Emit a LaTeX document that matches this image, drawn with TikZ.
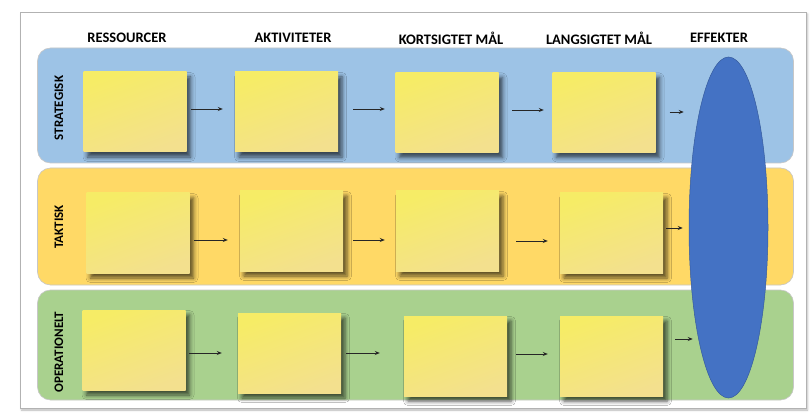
\documentclass[tikz,border=0pt]{standalone}
\usepackage{fontspec}
\setmainfont{Carlito}
\usetikzlibrary{shapes.geometric,shadows.blur,arrows.meta}
\definecolor{bandblue}{HTML}{9DC3E6}
\definecolor{bandorange}{HTML}{FFD966}
\definecolor{bandgreen}{HTML}{A9D18E}
\definecolor{effblue}{HTML}{4472C4}
\definecolor{stickytop}{HTML}{F6EC66}
\definecolor{stickybot}{HTML}{F3E08E}
\begin{document}
\begin{tikzpicture}[x=1pt,y=-1pt,
  band/.style={draw=black!22, line width=0.6pt, rounded corners=13pt},
  sticky/.style={minimum width=103pt, minimum height=80pt, inner sep=0pt,
     top color=stickytop, bottom color=stickybot, shading angle=20,
     blur shadow={shadow xshift=4pt, shadow yshift=-5pt, shadow blur radius=4.5pt, shadow opacity=65}},
  head/.style={font=\fontsize{14.5}{16}\selectfont\bfseries, inner sep=0pt},
  rowlab/.style={font=\fontsize{13}{15}\selectfont\bfseries, inner sep=0pt, rotate=90},
  arr/.style={draw=black!85, line width=0.9pt, -{Stealth[length=5pt,width=4pt]}}
]
\useasboundingbox (0,0) rectangle (811,414);
% page frame
\node[draw=black!30, fill=white, minimum width=786pt, minimum height=396pt, inner sep=0pt,
  blur shadow={shadow xshift=1.5pt, shadow yshift=-1.5pt, shadow blur radius=2pt, shadow opacity=30}] (frame) at (413,210.5) {};
% bands
\node[band, fill=bandblue, minimum width=756pt, minimum height=115pt] (bs) at (415.5,105.5) {};
\node[band, fill=bandorange, minimum width=756pt, minimum height=117pt] (bt) at (415.5,226.5) {};
\node[band, fill=bandgreen, minimum width=756pt, minimum height=110pt] (bo) at (415.5,345) {};
% headers
\node[head] (h1) at (127,38) {RESSOURCER};
\node[head] (h2) at (293,38) {AKTIVITETER};
\node[head] (h3) at (451,38) {KORTSIGTET MÅL};
\node[head] (h4) at (599,38) {LANGSIGTET MÅL};
\node[head] (h5) at (719,38) {EFFEKTER};
% row labels
\node[rowlab] (l1) at (59,108) {STRATEGISK};
\node[rowlab] (l2) at (59,227) {TAKTISK};
\node[rowlab] (l3) at (59,352) {OPERATIONELT};
% sticky notes
\node[sticky] (a1) at (135,112) {};
\node[sticky] (a2) at (286.5,112) {};
\node[sticky] (a3) at (447,112.5) {};
\node[sticky] (a4) at (604,112.5) {};
\node[sticky] (b1) at (138,233) {};
\node[sticky] (b2) at (291.5,231) {};
\node[sticky] (b3) at (447.5,231) {};
\node[sticky] (b4) at (611.5,233) {};
\node[sticky] (c1) at (134,350) {};
\node[sticky] (c2) at (289.5,353) {};
\node[sticky] (c3) at (455.5,356) {};
\node[sticky] (c4) at (611.5,356) {};
% effect ellipse
\node[ellipse, fill=effblue, draw=effblue!80!black, line width=0.5pt, minimum width=79pt, minimum height=341pt, inner sep=0pt] (eff) at (728.5,227.5) {};
% arrows row 1
\draw[arr] ([shift={(4.5,-3)}]a1.east) -- ([shift={(-12,-3)}]a2.west);
\draw[arr] ([shift={(15,-3)}]a2.east) -- ([shift={(-10.5,-3.5)}]a3.west);
\draw[arr] ([shift={(13.5,-2.5)}]a3.east) -- ([shift={(-8.5,-2.5)}]a4.west);
\draw[arr] ([shift={(14,-0.5)}]a4.east) -- ([shift={(-5,-115.5)}]eff.west);
% arrows row 2
\draw[arr] ([shift={(4.5,7)}]b1.east) -- ([shift={(-12,9)}]b2.west);
\draw[arr] ([shift={(10,9)}]b2.east) -- ([shift={(-11,9)}]b3.west);
\draw[arr] ([shift={(17,10)}]b3.east) -- ([shift={(-12,8)}]b4.west);
\draw[arr] ([shift={(3,-5)}]b4.east) -- ([shift={(-6,0.5)}]eff.west);
% arrows row 3
\draw[arr] ([shift={(3.5,3)}]c1.east) -- ([shift={(-16,0)}]c2.west);
\draw[arr] ([shift={(5,0)}]c2.east) -- ([shift={(-24,-3)}]c3.west);
\draw[arr] ([shift={(9,-2)}]c3.east) -- ([shift={(-12,-2)}]c4.west);
\draw[arr] ([shift={(12,-17)}]c4.east) -- ([shift={(4,111.5)}]eff.west);
\end{tikzpicture}
\end{document}
